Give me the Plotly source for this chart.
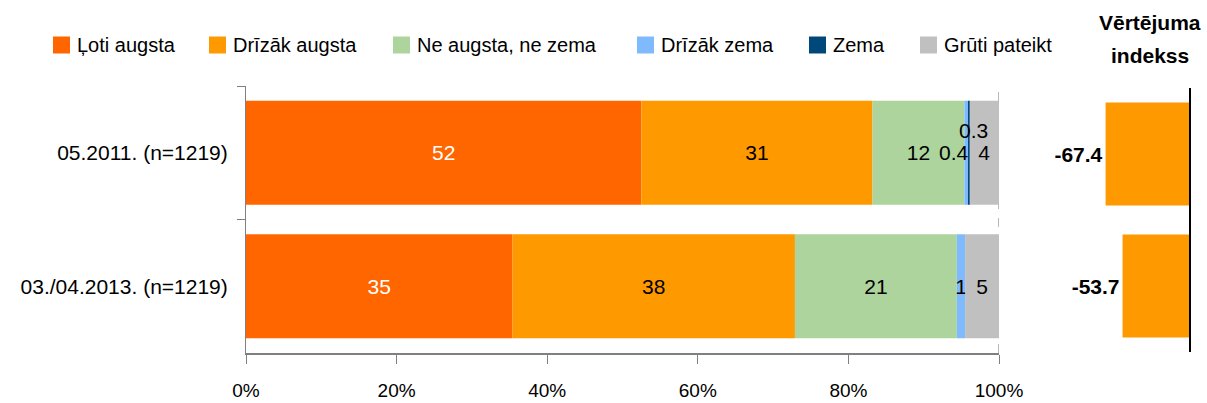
import plotly.graph_objects as go

categories = ["05.2011. (n=1219)", "03./04.2013. (n=1219)"]
series_names = ["Ļoti augsta", "Drīzāk augsta", "Ne augsta, ne zema", "Drīzāk zema", "Zema", "Grūti pateikt"]
series_colors = ["#FF6600", "#FF9900", "#ADD49C", "#7FBAFF", "#01487A", "#C0C0C0"]
values = [
    [52.5, 35.4],
    [30.7, 37.5],
    [12.2, 21.5],
    [0.5, 1.1],
    [0.2, 0.0],
    [3.9, 4.5],
]
labels = [
    ["52", "35"],
    ["31", "38"],
    ["12", "21"],
    ["0.4", "1"],
    ["0.3", ""],
    ["4", "5"],
]
text_colors = ["white", "black", "black", "black", "black", "black"]
index_values = [-67.4, -53.7]
index_labels = ["-67.4", "-53.7"]
x_ticks = [0, 20, 40, 60, 80, 100]
x_ticktext = ["0%", "20%", "40%", "60%", "80%", "100%"]

# layout constants (pixels)
W, H = 1207, 403
LEGEND_SQ_X = [53, 209, 393, 637, 809, 920]
LEGEND_Y = 45
SQ = 17

FONT = "Liberation Sans, Arial, sans-serif"
LBL = 21


def px(x):
    return x / W


def py(y):
    return (H - y) / H


fig = go.Figure()

small_offsets = {(3, 0): (-12, 0), (4, 0): (5, 22)}

for i, name in enumerate(series_names):
    txt = []
    for j in range(len(categories)):
        txt.append("" if (i, j) in small_offsets else labels[i][j])
    fig.add_trace(go.Bar(
        name=name,
        y=categories,
        x=values[i],
        orientation="h",
        marker=dict(color=series_colors[i], line=dict(width=0)),
        text=txt,
        textposition="inside",
        insidetextanchor="middle",
        textfont=dict(family=FONT, size=LBL, color=text_colors[i]),
        xaxis="x", yaxis="y",
        hoverinfo="skip",
        showlegend=False,
    ))

for (i, j), (dx, dy) in small_offsets.items():
    start = sum(values[k][j] for k in range(i))
    fig.add_annotation(
        x=start + values[i][j] / 2, y=categories[j], xref="x", yref="y",
        xanchor="center", yanchor="middle",
        text=labels[i][j], showarrow=False, xshift=dx, yshift=dy,
        font=dict(family=FONT, size=LBL, color="black"),
    )

fig.add_trace(go.Bar(
    y=categories,
    x=index_values,
    orientation="h",
    marker=dict(color="#FF9900", line=dict(width=0)),
    text=["<b>" + t + "</b>" for t in index_labels],
    textposition="outside",
    textfont=dict(family=FONT, size=21, color="black"),
    cliponaxis=False,
    xaxis="x2", yaxis="y2",
    showlegend=False,
    hoverinfo="skip",
))

# dashed 100% line
fig.add_shape(type="line", xref="x", yref="y domain", x0=100, x1=100, y0=0, y1=1,
              line=dict(color="#A0A0A0", width=1.5, dash="dash"), layer="below")

# legend (drawn manually to match spacing)
for name, color, sx in zip(series_names, series_colors, LEGEND_SQ_X):
    fig.add_shape(type="rect", xref="paper", yref="paper",
                  x0=px(sx), x1=px(sx + SQ), y0=py(LEGEND_Y + SQ / 2), y1=py(LEGEND_Y - SQ / 2),
                  fillcolor=color, line=dict(width=0))
    fig.add_annotation(x=px(sx + 22), y=py(LEGEND_Y), xref="paper", yref="paper",
                       xanchor="left", yanchor="middle", showarrow=False, text=name,
                       font=dict(family=FONT, size=20, color="black"))

fig.add_annotation(x=px(1150), y=py(23), xref="paper", yref="paper",
                   xanchor="center", yanchor="middle",
                   text="<b>Vērtējuma</b>", showarrow=False,
                   font=dict(family=FONT, size=21, color="black"))
fig.add_annotation(x=px(1150), y=py(56), xref="paper", yref="paper",
                   xanchor="center", yanchor="middle",
                   text="<b>indekss</b>", showarrow=False,
                   font=dict(family=FONT, size=21, color="black"))

ydom = [py(353), py(86)]

fig.update_layout(
    width=W, height=H,
    margin=dict(l=0, r=0, t=0, b=0, autoexpand=False),
    paper_bgcolor="white", plot_bgcolor="white",
    barmode="relative",
    bargap=0.22,
    font=dict(family=FONT, size=18, color="black"),
    uniformtext=dict(mode="show", minsize=LBL),
    showlegend=False,
    xaxis=dict(
        domain=[px(246), px(999)], range=[0, 100], anchor="y", automargin=False,
        tickvals=x_ticks, ticktext=x_ticktext,
        ticks="outside", ticklen=9, tickcolor="#808080", tickwidth=1,
        showline=True, linecolor="#808080", linewidth=2,
        showgrid=False, zeroline=False,
        tickfont=dict(family=FONT, size=19, color="black"),
        ticklabelstandoff=10,
    ),
    yaxis=dict(
        domain=ydom, anchor="x", type="category", automargin=False,
        categoryorder="array", categoryarray=categories[::-1],
        ticks="outside", tickson="boundaries", ticklen=8, tickcolor="#808080",
        showline=True, linecolor="#808080", linewidth=1,
        showgrid=False, zeroline=False,
        tickfont=dict(family=FONT, size=21, color="black"),
        ticklabelstandoff=13,
    ),
    xaxis2=dict(
        domain=[px(1030), px(1189)], range=[-128.5, 0], anchor="y2",
        visible=False, automargin=False,
    ),
    yaxis2=dict(
        domain=[py(352), py(88)], anchor="x2", type="category", side="right", automargin=False,
        categoryorder="array", categoryarray=categories[::-1],
        showline=True, linecolor="black", linewidth=2,
        showticklabels=False, ticks="", showgrid=False, zeroline=False,
    ),
)

fig.write_html("out.html", config={"displayModeBar": False},
               post_script="document.body.style.margin='0';document.body.style.overflow='hidden';")
